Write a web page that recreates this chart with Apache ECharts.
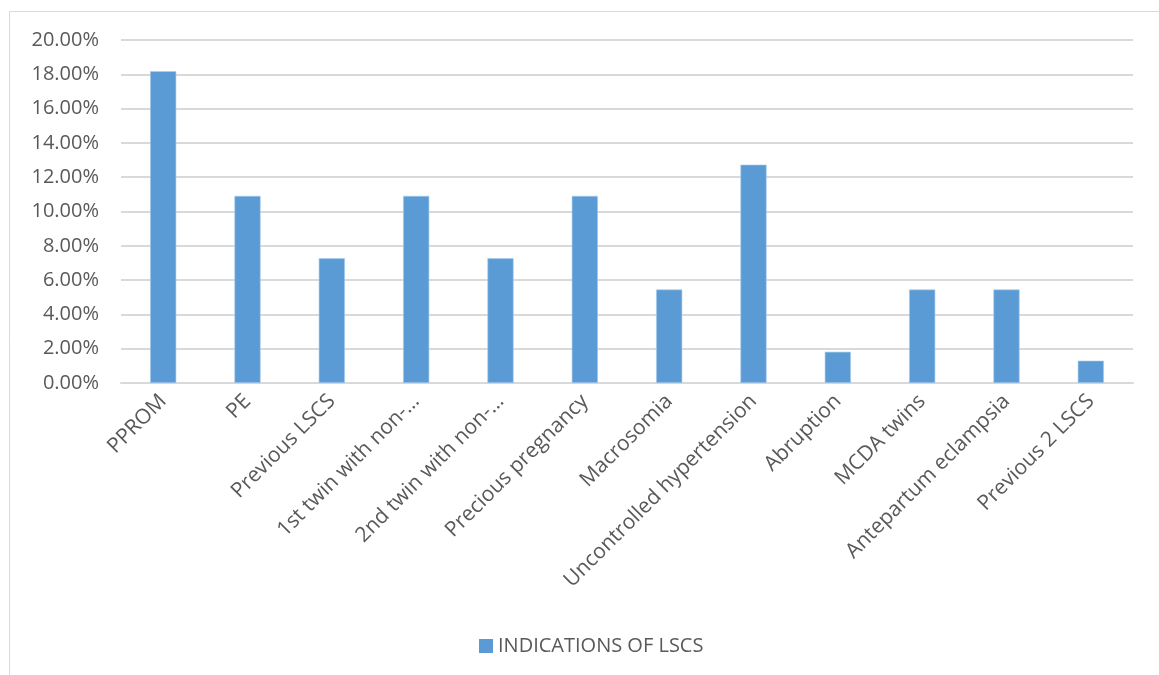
<!DOCTYPE html>
<html>
<head>
<meta charset="utf-8">
<script src="https://cdn.jsdelivr.net/npm/echarts@6/dist/echarts.min.js"></script>
<style>
  html, body { margin: 0; padding: 0; background: #fff; }
  #chart { width: 1159px; height: 675px; }
</style>
</head>
<body>
<div id="chart"></div>
<script>
// Indications for lower segment caesarean section (share of cases, %)
const categories = [
  'PPROM',
  'PE',
  'Previous LSCS',
  '1st twin with non-…',
  '2nd twin with non-…',
  'Precious pregnancy',
  'Macrosomia',
  'Uncontrolled hypertension',
  'Abruption',
  'MCDA twins',
  'Antepartum eclampsia',
  'Previous 2 LSCS'
];
const seriesName = 'INDICATIONS OF LSCS';
const values = [18.18, 10.91, 7.27, 10.91, 7.27, 10.91, 5.45, 12.73, 1.82, 5.45, 5.45, 1.3];
const yMin = 0, yMax = 20, yStep = 2;

const FONT = '"Open Sans", "Liberation Sans", sans-serif';
const TEXT = '#595959';
const GRID = '#d9d9d9';
const BAR = '#5b9bd5';

const chart = echarts.init(document.getElementById('chart'));
chart.setOption({
  animation: false,
  backgroundColor: '#fff',
  graphic: [{
    type: 'rect',
    shape: { x: 9.5, y: 11.5, width: 1200, height: 700 },
    style: { fill: 'none', stroke: '#d9d9d9', lineWidth: 1 },
    silent: true
  }],
  grid: { left: 121, right: 26, top: 40, bottom: 292, containLabel: false },
  legend: {
    bottom: 14,
    left: 474,
    itemWidth: 14,
    itemHeight: 14,
    itemGap: 8,
    icon: 'rect',
    itemStyle: { borderWidth: 0 },
    textStyle: { color: TEXT, fontFamily: FONT, fontSize: 20 },
    data: [seriesName]
  },
  xAxis: {
    type: 'category',
    data: categories,
    axisLine: { show: true, lineStyle: { color: GRID, width: 2 } },
    axisTick: { show: false },
    axisLabel: {
      interval: 0,
      rotate: 45,
      margin: 15,
      color: TEXT,
      fontFamily: FONT,
      fontSize: 21
    }
  },
  yAxis: {
    type: 'value',
    min: yMin,
    max: yMax,
    interval: yStep,
    axisLine: { show: false },
    axisTick: { show: false },
    splitLine: { lineStyle: { color: GRID, width: 2 } },
    axisLabel: {
      margin: 22,
      color: TEXT,
      fontFamily: FONT,
      fontSize: 20,
      formatter: v => v.toFixed(2) + '%'
    }
  },
  series: [{
    name: seriesName,
    type: 'bar',
    data: values,
    barWidth: '31%',
    itemStyle: { color: BAR, borderColor: '#a9ccec', borderWidth: 0.6 }
  }]
});
</script>
</body>
</html>
